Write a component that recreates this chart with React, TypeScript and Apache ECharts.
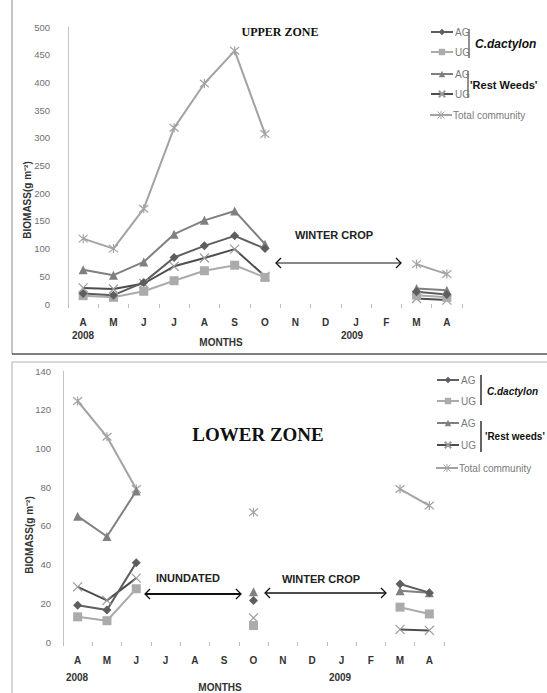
import React, { useEffect, useRef } from "react";
import * as echarts from "echarts";

// ---------- data ----------
const months = ["A", "M", "J", "J", "A", "S", "O", "N", "D", "J", "F", "M", "A"];
const yearLabels = ["2008", "2009"];
const yTicksUpper = { min: 0, max: 500, interval: 50 };
const yTicksLower = { min: 0, max: 140, interval: 20 };

const upperCdAG = [19, 16, 39, 84, 105, 123, 100, null, null, null, null, 22, 17];
const upperCdUG = [15, 12, 23, 42, 60, 70, 48, null, null, null, null, 16, 12];
const upperRwAG = [62, 52, 76, 126, 151, 168, 108, null, null, null, null, 28, 25];
const upperRwUG = [29, 27, 37, 68, 83, 99, 50, null, null, null, null, 10, 7];
const upperTotal = [118, 100, 172, 318, 398, 457, 307, null, null, null, null, 72, 54];

const lowerCdAG = [19, 16.5, 41, null, null, null, 21.5, null, null, null, null, 30, 25.5];
const lowerCdUG = [13, 11, 27.5, null, null, null, 8.5, null, null, null, null, 18, 14.5];
const lowerRwAG = [65, 54.5, 78, null, null, null, 26, null, null, null, null, 26.5, 25.5];
const lowerRwUG = [28.5, 21.5, 33, null, null, null, 12.5, null, null, null, null, 6.5, 6];
const lowerTotal = [124.5, 106, 79, null, null, null, 67, null, null, null, null, 79, 70.5];

// ---------- styles ----------
const FONT = "Liberation Sans, Arial, sans-serif";
const X_SYMBOL = "path://M0,0L10,10M10,0L0,10";
const STAR_SYMBOL = "path://M0,0L10,10M10,0L0,10M5,-1L5,11";
const TOTAL_COLOR = "#a3a3a3";

type Style = { color: string; symbol: string; size: number; stroke?: string };
const STYLES: Record<string, Style> = {
  cdAG: { color: "#5e5e5e", symbol: "diamond", size: 9 },
  cdUG: { color: "#ababab", symbol: "rect", size: 9 },
  rwAG: { color: "#808080", symbol: "triangle", size: 9 },
  rwUG: { color: "#4d4d4d", symbol: X_SYMBOL, size: 9, stroke: "#9a9a9a" },
  total: { color: TOTAL_COLOR, symbol: STAR_SYMBOL, size: 9, stroke: TOTAL_COLOR },
};

function mkSeries(name: string, data: (number | null)[], key: string, axis: number) {
  const s = STYLES[key];
  const itemStyle: any = s.stroke
    ? { color: "rgba(0,0,0,0)", borderColor: s.stroke, borderWidth: 1.2 }
    : { color: s.color };
  return {
    type: "line",
    name,
    data,
    xAxisIndex: axis,
    yAxisIndex: axis,
    symbol: s.symbol,
    symbolSize: s.size,
    showAllSymbol: true,
    connectNulls: false,
    lineStyle: { color: s.color, width: 2 },
    itemStyle,
    emphasis: { disabled: true },
    z: key === "total" ? 2 : 3,
  };
}

function legendItem(name: string, label: string, left: number, cy: number) {
  return {
    data: [name],
    left,
    top: cy - 6,
    padding: 0,
    itemWidth: 22,
    itemHeight: 8,
    itemGap: 0,
    selectedMode: false,
    formatter: label,
    textStyle: { fontFamily: FONT, fontSize: 10, color: "#7a7a7a", padding: [0, 0, 0, -3] },
  };
}

function text(t: string, x: number, y: number, font: string, fill = "#222", align = "center", rotation = 0) {
  return {
    type: "text",
    x,
    y,
    rotation,
    silent: true,
    style: { text: t, x: 0, y: 0, font, fill, align, verticalAlign: "middle" },
  };
}

function line(x1: number, y1: number, x2: number, y2: number, stroke: string, w: number) {
  return { type: "line", silent: true, shape: { x1, y1, x2, y2 }, style: { stroke, lineWidth: w } };
}

function arrow(x1: number, x2: number, y: number, w: number) {
  const h = 5;
  return [
    line(x1, y, x2, y, "#111", w),
    { type: "polyline", silent: true, shape: { points: [[x1 + h, y - h], [x1, y], [x1 + h, y + h]] }, style: { stroke: "#111", lineWidth: 1.3, fill: null } },
    { type: "polyline", silent: true, shape: { points: [[x2 - h, y - h], [x2, y], [x2 - h, y + h]] }, style: { stroke: "#111", lineWidth: 1.3, fill: null } },
  ];
}

// legend entry for "Total community" drawn by hand (line + asterisk + label)
function totalLegend(x: number, y: number) {
  const cx = x + 11;
  const r = 3.5;
  return [
    line(x, y, x + 22, y, TOTAL_COLOR, 2),
    line(cx - r, y - r, cx + r, y + r, TOTAL_COLOR, 1),
    line(cx + r, y - r, cx - r, y + r, TOTAL_COLOR, 1),
    line(cx, y - r - 0.5, cx, y + r + 0.5, TOTAL_COLOR, 1),
    text("Total community", x + 23, y, `10px ${FONT}`, "#7a7a7a", "left"),
  ];
}

function xAxis(grid: number) {
  return {
    type: "category",
    gridIndex: grid,
    data: months,
    boundaryGap: true,
    axisLine: { show: false },
    axisTick: { show: true, interval: 0, length: 4, lineStyle: { color: "#bdbdbd" } },
    axisLabel: { interval: 0, margin: 13, fontFamily: FONT, fontSize: 10, fontWeight: "bold", color: "#333" },
    splitLine: { show: false },
  };
}

function yAxis(grid: number, t: { min: number; max: number; interval: number }, margin: number) {
  return {
    type: "value",
    gridIndex: grid,
    min: t.min,
    max: t.max,
    interval: t.interval,
    axisLine: { show: true, lineStyle: { color: "#c4c4c4" } },
    axisTick: { show: false },
    splitLine: { show: false },
    axisLabel: { margin, fontFamily: FONT, fontSize: 9.5, color: "#707070" },
  };
}

export default function App() {
  const ref = useRef<HTMLDivElement>(null);
  useEffect(() => {
    const chart = echarts.init(ref.current!, null, { renderer: "svg" });
    const upperNames = ["U C.dactylon AG", "U C.dactylon UG", "U Rest AG", "U Rest UG", "U Total community"];
    const lowerNames = ["L C.dactylon AG", "L C.dactylon UG", "L Rest AG", "L Rest UG", "L Total community"];
    const labels = ["AG", "UG", "AG", "UG"];
    const upperRows = [33, 53, 75, 95, 115];
    const lowerRows = [381, 402, 424, 446, 468];

    const graphic: any[] = [
      // panel borders
      line(12, 0, 12, 354, "#8a8a8a", 1),
      line(12, 354, 547, 354, "#555", 1.6),
      line(12, 362, 547, 362, "#b0b0b0", 1),
      line(12, 362, 12, 693, "#b0b0b0", 1),
      // titles
      text("UPPER ZONE", 280, 32, "bold 12px Liberation Serif, Times New Roman, serif", "#111"),
      text("LOWER ZONE", 258, 434, "bold 19px Liberation Serif, Times New Roman, serif", "#111"),
      // y-axis names
      text("BIOMASS(g m\u207B\u00B2)", 27, 200, `bold 10px ${FONT}`, "#333", "center", Math.PI / 2),
      text("BIOMASS(g m\u207B\u00B2)", 29, 535, `bold 10px ${FONT}`, "#333", "center", Math.PI / 2),
      // years and axis titles
      text(yearLabels[0], 83, 335, `bold 10px ${FONT}`, "#333"),
      text(yearLabels[1], 352, 335, `bold 10px ${FONT}`, "#333"),
      text("MONTHS", 221, 342, `bold 10px ${FONT}`, "#333"),
      text(yearLabels[0], 77, 677, `bold 10px ${FONT}`, "#333"),
      text(yearLabels[1], 340, 677, `bold 10px ${FONT}`, "#333"),
      text("MONTHS", 220, 687, `bold 10px ${FONT}`, "#333"),
      // annotations
      text("WINTER CROP", 334, 235, `bold 11px ${FONT}`, "#222"),
      ...arrow(276, 401, 263, 1),
      text("INUNDATED", 188, 578, `bold 11px ${FONT}`, "#222"),
      ...arrow(145, 241, 594, 2),
      text("WINTER CROP", 321, 579, `bold 11px ${FONT}`, "#222"),
      ...arrow(265, 386, 593, 1.3),
      // legend brackets & group labels (upper)
      line(469, 29, 469, 58, "#222", 1),
      text("C.dactylon", 475, 44, `italic bold 12px ${FONT}`, "#111", "left"),
      line(468, 71, 468, 98, "#222", 1),
      text("'Rest Weeds'", 470, 85, `bold 11px ${FONT}`, "#111", "left"),
      ...totalLegend(430, upperRows[4]),
      // legend brackets & group labels (lower)
      line(481, 375, 481, 405, "#222", 1.4),
      text("C.dactylon", 487, 391, `italic bold 10px ${FONT}`, "#111", "left"),
      line(481, 421, 481, 452, "#222", 1.4),
      text("'Rest weeds'", 485, 436, `bold 10px ${FONT}`, "#111", "left"),
      ...totalLegend(436, lowerRows[4]),
    ];

    const legends = [
      ...upperNames.slice(0, 4).map((n, i) => legendItem(n, labels[i], 430, upperRows[i])),
      ...lowerNames.slice(0, 4).map((n, i) => legendItem(n, labels[i], 436, lowerRows[i])),
    ];

    chart.setOption({
      animation: false,
      textStyle: { fontFamily: FONT },
      grid: [
        { left: 68, top: 27, width: 394, height: 277 },
        { left: 63, top: 371, width: 381, height: 271 },
      ],
      xAxis: [xAxis(0), xAxis(1)],
      yAxis: [yAxis(0, yTicksUpper, 18), yAxis(1, yTicksLower, 12)],
      legend: legends,
      series: [
        mkSeries(upperNames[4], upperTotal, "total", 0),
        mkSeries(upperNames[2], upperRwAG, "rwAG", 0),
        mkSeries(upperNames[3], upperRwUG, "rwUG", 0),
        mkSeries(upperNames[1], upperCdUG, "cdUG", 0),
        mkSeries(upperNames[0], upperCdAG, "cdAG", 0),
        mkSeries(lowerNames[4], lowerTotal, "total", 1),
        mkSeries(lowerNames[2], lowerRwAG, "rwAG", 1),
        mkSeries(lowerNames[3], lowerRwUG, "rwUG", 1),
        mkSeries(lowerNames[1], lowerCdUG, "cdUG", 1),
        mkSeries(lowerNames[0], lowerCdAG, "cdAG", 1),
      ],
      graphic,
    });
    return () => chart.dispose();
  }, []);
  return (
    <div
      ref={ref}
      style={{ position: "absolute", left: 0, top: 0, width: 547, height: 693, background: "#fff" }}
    />
  );
}
